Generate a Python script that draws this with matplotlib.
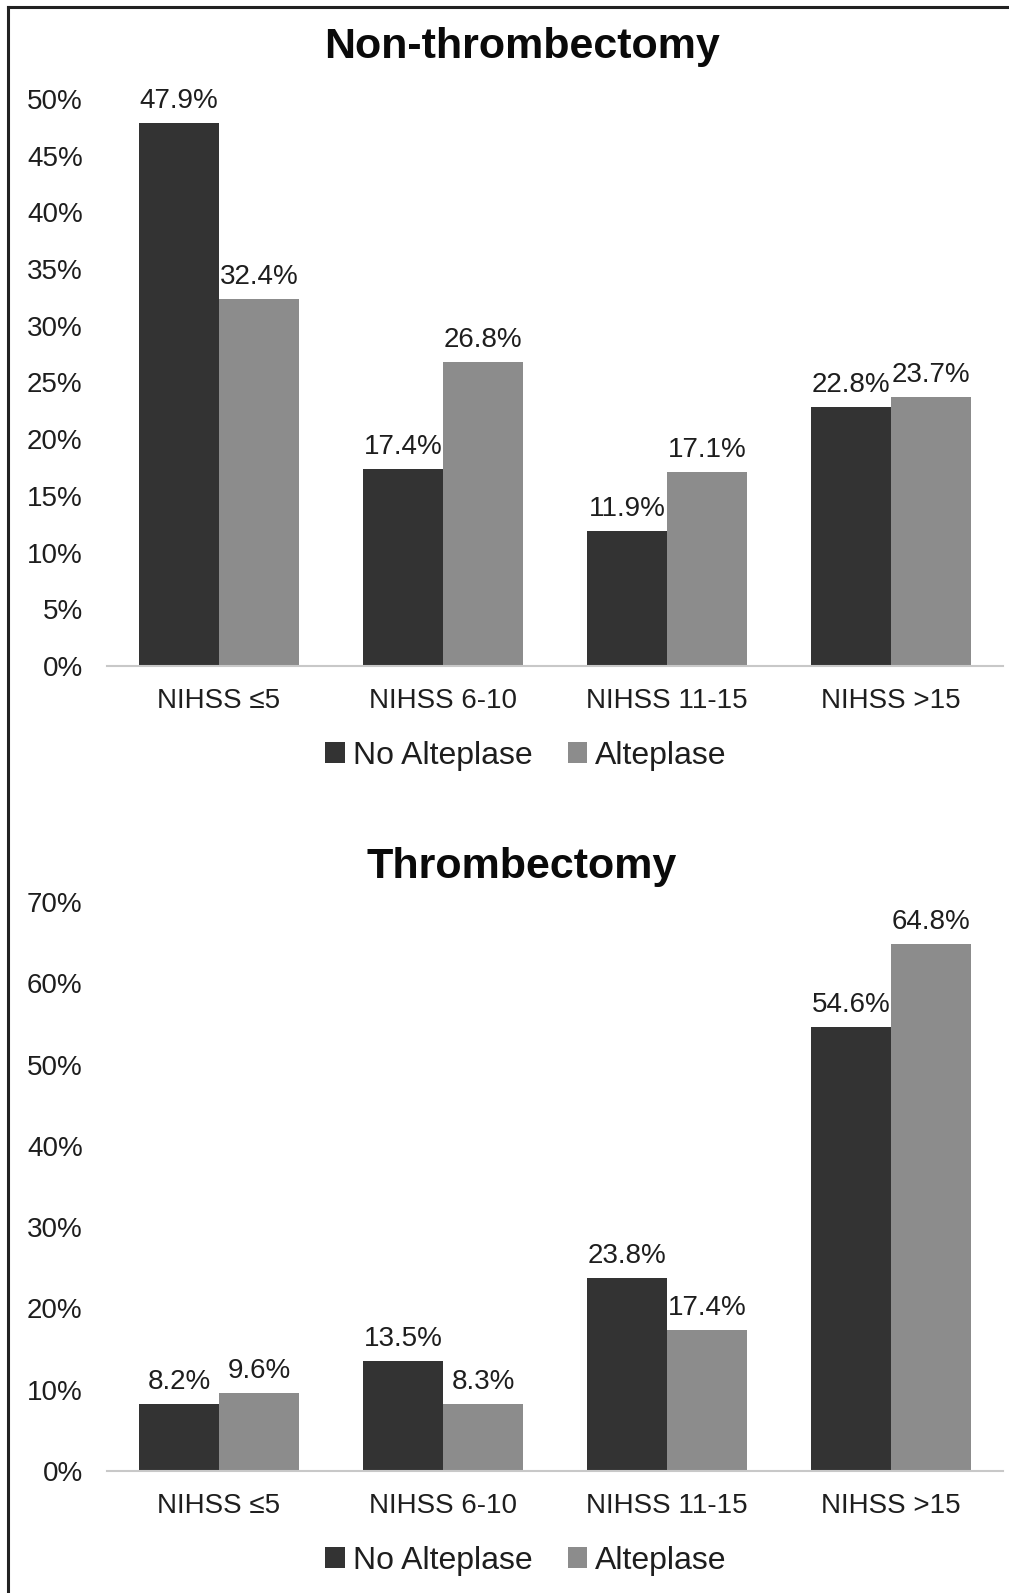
import matplotlib
matplotlib.use("Agg")
import matplotlib.pyplot as plt
from matplotlib.patches import Patch
from matplotlib.lines import Line2D
import numpy as np

plt.rcParams['font.family'] = ['Liberation Sans', 'DejaVu Sans']

categories = ["NIHSS ≤5", "NIHSS 6-10", "NIHSS 11-15", "NIHSS >15"]
series_names = ["No Alteplase", "Alteplase"]
non_thromb_no_alteplase = [47.9, 17.4, 11.9, 22.8]
non_thromb_alteplase = [32.4, 26.8, 17.1, 23.7]
thromb_no_alteplase = [8.2, 13.5, 23.8, 54.6]
thromb_alteplase = [9.6, 8.3, 17.4, 64.8]
top_ticks = [0, 5, 10, 15, 20, 25, 30, 35, 40, 45, 50]
bottom_ticks = [0, 10, 20, 30, 40, 50, 60, 70]

DARK = "#333333"
LIGHT = "#8c8c8c"
TXT = "#1e1e1e"
W, H = 1009, 1593
fig = plt.figure(figsize=(W / 100, H / 100), dpi=100)

def fx(px):
    return px / W

def fy(py):
    return 1 - py / H

def make_panel(y_bottom_px, y_top_px, data_a, data_b, ticks, ymax):
    ax = fig.add_axes([fx(107), fy(y_bottom_px), fx(1003) - fx(107), fy(y_top_px) - fy(y_bottom_px)])
    x = np.arange(len(categories))
    bw = 0.357
    b1 = ax.bar(x - bw / 2, data_a, bw, color=DARK, zorder=3)
    b2 = ax.bar(x + bw / 2, data_b, bw, color=LIGHT, zorder=3)
    for bars, vals in ((b1, data_a), (b2, data_b)):
        for r, v in zip(bars, vals):
            ax.annotate(f"{v:.1f}%", (r.get_x() + r.get_width() / 2, r.get_height()),
                        xytext=(0, 6.5), textcoords="offset points", ha="center", va="bottom",
                        fontsize=20, color=TXT, annotation_clip=False)
    ax.set_xlim(-0.5, len(categories) - 0.5)
    ax.set_ylim(0, ymax)
    ax.set_yticks(ticks)
    ax.set_yticklabels([f"{t}%" for t in ticks], fontsize=20, color=TXT)
    ax.set_xticks(x)
    ax.set_xticklabels(categories, fontsize=20, color=TXT)
    ax.tick_params(axis="y", length=0, pad=17.5)
    ax.tick_params(axis="x", length=0, pad=16)
    for s in ("top", "right", "left"):
        ax.spines[s].set_visible(False)
    ax.spines["bottom"].set_color("#c8c8c8")
    ax.spines["bottom"].set_linewidth(1.5)
    ax.spines["bottom"].set_zorder(4)
    ax.patch.set_alpha(0)
    return ax

make_panel(666, 99, non_thromb_no_alteplase, non_thromb_alteplase, top_ticks, 50)
make_panel(1471, 902, thromb_no_alteplase, thromb_alteplase, bottom_ticks, 70)

fig.text(fx(522), fy(47), "Non-thrombectomy", ha="center", va="center", fontsize=31, fontweight="bold", color="#0a0a0a")
fig.text(fx(522), fy(867), "Thrombectomy", ha="center", va="center", fontsize=31, fontweight="bold", color="#0a0a0a")

handles = [Patch(facecolor=DARK), Patch(facecolor=LIGHT)]
for ly in (756, 1561):
    fig.legend(handles, series_names, loc="center", bbox_to_anchor=(fx(526), fy(ly)), ncol=2,
               frameon=False, fontsize=23, handlelength=0.62, handleheight=0.62,
               handletextpad=0.25, columnspacing=1.1, labelcolor=TXT)

# partial frame: left and top edges
fig.add_artist(Line2D([fx(8), fx(8)], [0, fy(7)], color="#222222", lw=2.2))
fig.add_artist(Line2D([fx(8), 1], [fy(7), fy(7)], color="#222222", lw=2.2))

fig.savefig("out.png", dpi=100, facecolor="white")
